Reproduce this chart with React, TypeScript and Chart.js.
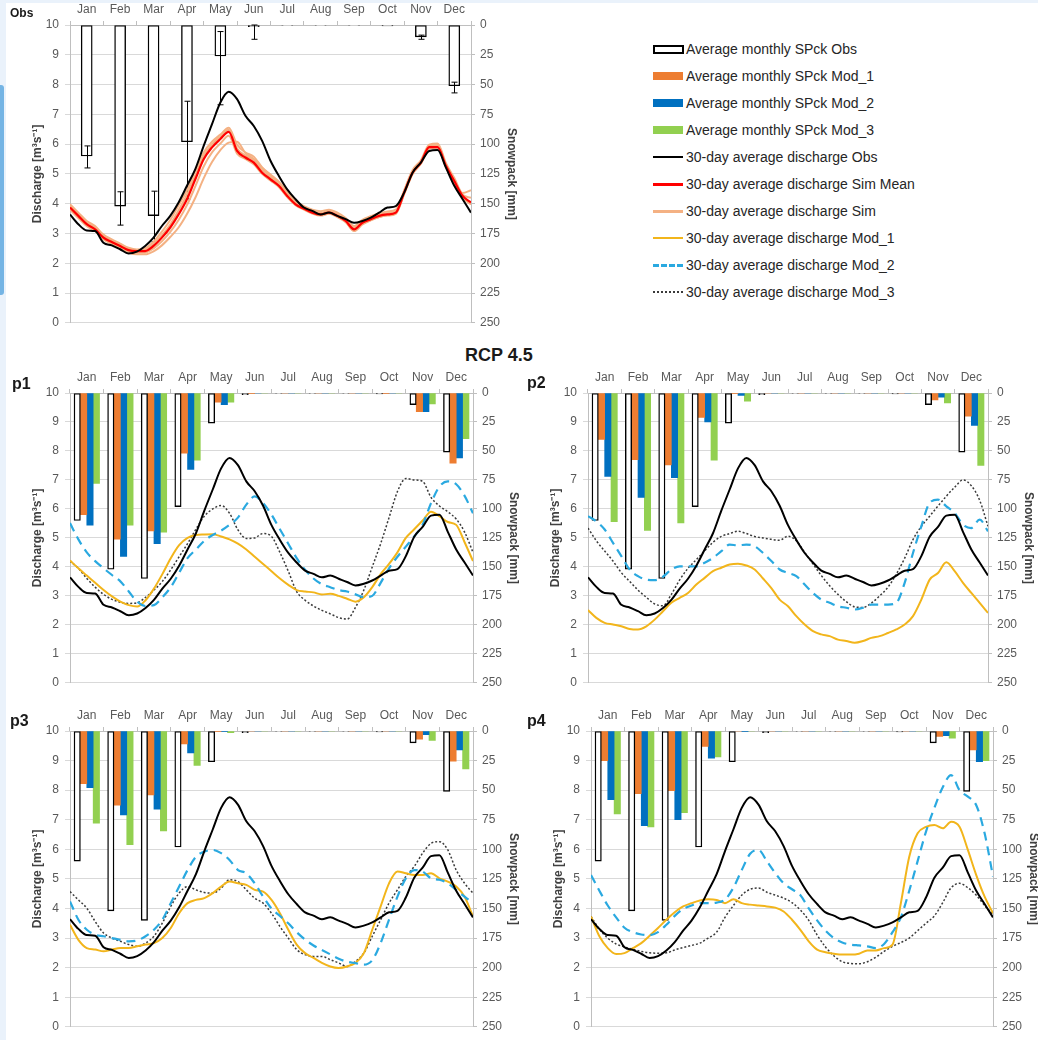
import React, { useEffect, useRef } from 'react';
import { Chart, registerables } from 'chart.js';
Chart.register(...registerables);

const FONT = '"Liberation Sans", Arial, Helvetica, sans-serif';

// ---------- categories / positions ----------
const months = ['Jan', 'Feb', 'Mar', 'Apr', 'May', 'Jun', 'Jul', 'Aug', 'Sep', 'Oct', 'Nov', 'Dec'];
// position of each discharge sample, in months from 1 January (quarter-month steps)
const qPos = [0, 0.25, 0.5, 0.75, 1, 1.25, 1.5, 1.75, 2, 2.25, 2.5, 2.75, 3, 3.25, 3.5, 3.75, 4, 4.25, 4.5, 4.75, 5, 5.25, 5.5, 5.75, 6, 6.25, 6.5, 6.75, 7, 7.25, 7.5, 7.75, 8, 8.25, 8.5, 8.75, 9, 9.25, 9.5, 9.75, 10, 10.25, 10.5, 10.75, 11, 11.25, 11.5, 11.75, 12];

// ---------- snowpack (mm), monthly ----------
const obsSnow = [110, 152, 160, 98, 26, 1.5, 0.4, 0.4, 0.4, 0.8, 10, 51];
const obsSnowErrTop = [101.5, 140, 139.5, 64, 5.5, 0, null, null, null, null, 8.5, 48];
const obsSnowErrBottom = [120, 168, 182, 146, 67, 12, null, null, null, null, 12, 57];

const p1Snow1 = [105, 126, 119, 52, 8, 0.5, 0, 0, 0, 0.5, 16, 60.5];
const p1Snow2 = [114, 141, 130, 66, 10, 0, 0, 0, 0, 0, 16, 56];
const p1Snow3 = [78, 114, 120, 58, 8, 0, 0, 0, 0, 0, 9.5, 39.5];

const p2Snow1 = [40, 57.5, 62, 21, 0.5, 0, 0, 0, 0, 0, 6, 20];
const p2Snow2 = [72, 90, 73, 25, 2, 0, 0, 0, 0, 0, 3.5, 28];
const p2Snow3 = [111, 118.5, 112, 58, 7, 0, 0, 0, 0, 0, 8.5, 62.5];

const p3Snow1 = [44.5, 62.7, 54, 11, 0.5, 0, 0, 0, 0, 0, 7, 25.5];
const p3Snow2 = [48, 71, 66, 18.5, 0.5, 0, 0, 0, 0, 0, 3, 16];
const p3Snow3 = [78, 96, 84.5, 29, 1.5, 0, 0, 0, 0, 0, 8, 32];

const p4Snow1 = [25, 53, 50.5, 13, 0, 0, 0, 0, 0, 0, 4.5, 16];
const p4Snow2 = [58, 80, 75, 23, 0.5, 0, 0, 0, 0, 0, 4, 26];
const p4Snow3 = [70, 81, 69, 22, 0, 0, 0, 0, 0, 0, 6, 25];

// ---------- 30-day average discharge (m3/s) ----------
const obsQ = [3.64, 3.31, 3.1, 3.08, 2.69, 2.6, 2.47, 2.33, 2.39, 2.58, 2.86, 3.25, 3.59, 4.04, 4.6, 5.16, 5.94, 6.67, 7.4, 7.76, 7.51, 6.95, 6.61, 6.11, 5.44, 4.93, 4.48, 4.15, 3.87, 3.76, 3.64, 3.7, 3.59, 3.48, 3.36, 3.42, 3.53, 3.7, 3.87, 3.92, 4.37, 5.04, 5.38, 5.77, 5.8, 5.21, 4.6, 4.15, 3.7];
const simMeanQ = [3.87, 3.59, 3.31, 3.14, 2.86, 2.71, 2.58, 2.44, 2.41, 2.41, 2.58, 2.86, 3.2, 3.64, 4.15, 4.82, 5.49, 5.89, 6.17, 6.41, 5.77, 5.55, 5.38, 5.04, 4.82, 4.6, 4.26, 3.98, 3.83, 3.7, 3.64, 3.7, 3.59, 3.42, 3.14, 3.36, 3.48, 3.59, 3.64, 3.7, 4.37, 5.04, 5.38, 5.9, 5.9, 5.27, 4.76, 4.26, 4.04];
const sim1Q = [3.98, 3.7, 3.42, 3.25, 2.96, 2.8, 2.66, 2.52, 2.46, 2.5, 2.72, 3.06, 3.45, 3.95, 4.45, 5.12, 5.72, 6.08, 6.32, 6.55, 5.98, 5.72, 5.58, 5.22, 4.98, 4.74, 4.4, 4.08, 3.92, 3.8, 3.75, 3.8, 3.7, 3.52, 3.25, 3.46, 3.58, 3.68, 3.74, 3.8, 4.45, 5.12, 5.46, 5.98, 6.02, 5.36, 4.86, 4.36, 4.45];
const sim2Q = [3.92, 3.64, 3.36, 3.2, 2.92, 2.76, 2.62, 2.48, 2.44, 2.45, 2.64, 2.94, 3.3, 3.78, 4.3, 4.95, 5.6, 5.98, 6.25, 6.48, 5.85, 5.62, 5.45, 5.12, 4.88, 4.66, 4.32, 4.03, 3.87, 3.75, 3.69, 3.75, 3.64, 3.46, 3.2, 3.41, 3.53, 3.63, 3.68, 3.74, 4.41, 5.08, 5.42, 5.93, 5.97, 5.31, 4.8, 4.3, 4.2];
const sim3Q = [3.8, 3.52, 3.25, 3.08, 2.8, 2.65, 2.5, 2.36, 2.3, 2.3, 2.4, 2.6, 2.88, 3.2, 3.65, 4.2, 4.85, 5.4, 5.8, 6.05, 6.08, 5.7, 5.5, 5.2, 4.95, 4.7, 4.35, 4.05, 3.88, 3.74, 3.66, 3.7, 3.58, 3.4, 3.08, 3.3, 3.44, 3.55, 3.6, 3.66, 4.32, 5.0, 5.34, 5.85, 5.9, 5.22, 4.7, 4.2, 3.98];
const sim4Q = [3.84, 3.55, 3.28, 3.1, 2.83, 2.68, 2.54, 2.4, 2.36, 2.36, 2.5, 2.74, 3.05, 3.45, 3.95, 4.58, 5.25, 5.72, 6.02, 6.28, 5.68, 5.5, 5.32, 5.0, 4.78, 4.56, 4.22, 3.95, 3.8, 3.67, 3.6, 3.66, 3.55, 3.38, 3.1, 3.32, 3.45, 3.55, 3.62, 3.68, 4.34, 5.0, 5.35, 5.86, 5.88, 5.24, 4.72, 4.22, 3.98];

const p1Q1 = [4.22, 3.95, 3.7, 3.45, 3.2, 2.98, 2.8, 2.68, 2.63, 2.85, 3.25, 3.75, 4.3, 4.75, 5.0, 5.1, 5.12, 5.13, 5.05, 4.95, 4.8, 4.6, 4.35, 4.1, 3.85, 3.6, 3.38, 3.2, 3.15, 3.12, 3.05, 3.07, 3.0, 2.9, 2.8, 2.95, 3.3, 3.75, 4.1, 4.5, 5.0, 5.3, 5.6, 5.9, 5.75, 5.55, 5.45, 4.85, 4.2];
const p1Q2 = [5.51, 4.95, 4.5, 4.2, 3.95, 3.72, 3.5, 3.15, 2.8, 2.65, 2.68, 2.95, 3.3, 3.8, 4.3, 4.6, 4.9, 5.1, 5.25, 5.45, 5.7, 6.15, 6.43, 6.2, 5.8, 5.3, 4.8, 4.3, 3.9, 3.6, 3.4, 3.3, 3.2, 3.15, 3.05, 2.95, 3.0, 3.45, 3.95, 4.35, 4.7, 5.05, 5.45, 6.2, 6.77, 6.95, 6.85, 6.45, 5.85];
const p1Q3 = [4.2, 3.95, 3.6, 3.3, 3.05, 2.88, 2.78, 2.74, 2.76, 2.95, 3.2, 3.5, 3.9, 4.35, 4.8, 5.3, 5.75, 6.0, 6.12, 5.85, 5.28, 4.98, 5.0, 5.15, 5.05, 4.5, 3.85, 3.15, 2.85, 2.65, 2.5, 2.38, 2.25, 2.2, 2.6, 3.2, 4.0, 4.8, 5.7, 6.6, 7.05, 7.0, 6.95, 6.4, 6.1, 5.9, 5.65, 5.2, 4.5];

const p2Q1 = [2.51, 2.24, 2.07, 2.01, 1.95, 1.86, 1.84, 1.95, 2.18, 2.47, 2.76, 2.93, 3.1, 3.39, 3.62, 3.85, 3.97, 4.08, 4.11, 4.05, 3.91, 3.6, 3.27, 2.87, 2.64, 2.3, 2.01, 1.78, 1.67, 1.61, 1.49, 1.44, 1.38, 1.44, 1.55, 1.61, 1.72, 1.84, 2.01, 2.3, 2.87, 3.56, 3.79, 4.16, 3.85, 3.45, 3.1, 2.76, 2.41];
const p2Q2 = [5.75, 5.57, 5.29, 4.83, 4.37, 3.91, 3.68, 3.56, 3.54, 3.66, 3.91, 4.02, 4.02, 4.02, 4.14, 4.31, 4.54, 4.77, 4.74, 4.77, 4.71, 4.48, 4.2, 3.91, 3.79, 3.68, 3.39, 3.1, 2.87, 2.76, 2.64, 2.59, 2.53, 2.59, 2.7, 2.7, 2.7, 2.76, 3.45, 4.48, 5.4, 6.21, 6.32, 6.09, 5.86, 5.46, 5.34, 5.63, 5.23];
const p2Q3 = [5.34, 4.9, 4.55, 4.2, 3.8, 3.5, 3.2, 2.95, 2.72, 2.66, 3.05, 3.55, 3.95, 4.25, 4.55, 4.85, 5.05, 5.15, 5.23, 5.15, 5.05, 5.0, 4.95, 4.92, 5.06, 4.9, 4.5, 4.1, 3.7, 3.35, 3.05, 2.8, 2.62, 2.6, 2.75, 3.0, 3.3, 3.75, 4.3, 4.94, 5.4, 5.75, 6.1, 6.44, 6.75, 7.0, 6.8, 6.3, 5.4];

const p3Q1 = [3.45, 2.94, 2.66, 2.61, 2.55, 2.61, 2.66, 2.66, 2.72, 2.78, 2.83, 3.0, 3.34, 3.84, 4.18, 4.29, 4.35, 4.52, 4.74, 4.91, 4.85, 4.8, 4.63, 4.57, 4.29, 3.84, 3.28, 2.78, 2.49, 2.33, 2.16, 2.04, 1.99, 2.04, 2.16, 2.49, 3.28, 4.07, 4.85, 5.25, 5.19, 5.13, 5.13, 5.19, 5.02, 4.91, 4.74, 4.4, 3.73];
const p3Q2 = [4.24, 3.62, 3.28, 3.11, 3.06, 3.0, 2.94, 2.89, 2.92, 3.06, 3.28, 3.62, 4.18, 4.74, 5.3, 5.75, 5.92, 5.98, 5.87, 5.64, 5.3, 5.19, 4.85, 4.4, 4.0, 3.75, 3.5, 3.2, 2.95, 2.75, 2.6, 2.45, 2.3, 2.2, 2.15, 2.1, 2.25, 2.83, 3.62, 4.4, 5.02, 5.3, 5.25, 5.02, 4.97, 4.85, 4.63, 4.4, 4.18];
const p3Q3 = [4.57, 4.29, 4.01, 3.56, 3.17, 3.0, 2.89, 2.78, 2.72, 2.83, 3.06, 3.51, 4.07, 4.52, 4.74, 4.63, 4.54, 4.52, 4.69, 4.97, 4.91, 4.63, 4.35, 4.18, 3.84, 3.39, 3.0, 2.61, 2.44, 2.38, 2.38, 2.27, 2.16, 2.04, 2.21, 2.49, 3.06, 3.62, 4.18, 4.63, 5.08, 5.42, 5.87, 6.2, 6.26, 5.98, 5.3, 4.85, 4.52];

const p4Q1 = [3.73, 3.06, 2.66, 2.46, 2.49, 2.66, 2.83, 3.08, 3.34, 3.62, 3.87, 4.07, 4.18, 4.27, 4.31, 4.29, 4.18, 4.31, 4.18, 4.13, 4.1, 4.07, 4.03, 3.9, 3.62, 3.28, 2.89, 2.61, 2.52, 2.47, 2.44, 2.44, 2.47, 2.58, 2.58, 2.66, 2.78, 4.18, 5.75, 6.54, 6.76, 6.82, 6.71, 6.93, 6.76, 5.98, 5.13, 4.4, 3.84];
const p4Q2 = [5.13, 4.6, 4.1, 3.7, 3.35, 3.2, 3.12, 3.1, 3.2, 3.45, 3.75, 3.98, 4.1, 4.18, 4.18, 4.2, 4.3, 4.7, 5.3, 5.85, 5.98, 5.6, 5.2, 4.85, 4.65, 4.45, 4.0, 3.6, 3.25, 3.0, 2.85, 2.78, 2.75, 2.72, 2.66, 2.8, 3.2, 3.7, 4.6, 5.6, 6.6, 7.4, 8.1, 8.51, 8.0, 7.78, 7.49, 6.54, 5.08];
const p4Q3 = [3.73, 3.3, 3.0, 2.8, 2.7, 2.62, 2.55, 2.5, 2.49, 2.5, 2.6, 2.68, 2.75, 2.83, 3.0, 3.2, 3.7, 4.1, 4.45, 4.65, 4.69, 4.55, 4.45, 4.35, 4.2, 3.95, 3.6, 3.1, 2.7, 2.4, 2.2, 2.14, 2.13, 2.2, 2.35, 2.55, 2.72, 2.85, 3.0, 3.25, 3.5, 3.75, 4.2, 4.7, 4.85, 4.7, 4.45, 4.1, 3.8];

// ---------- legend / labels ----------
const legendLabels = [
  'Average monthly SPck Obs',
  'Average monthly SPck Mod_1',
  'Average monthly SPck Mod_2',
  'Average monthly SPck Mod_3',
  '30-day average discharge Obs',
  '30-day average discharge Sim Mean',
  '30-day average discharge Sim',
  '30-day average discharge Mod_1',
  '30-day average discharge Mod_2',
  '30-day average discharge Mod_3',
];
const leftTitle = 'Discharge [m³s⁻¹]';
const rightTitle = 'Snowpack [mm]';

// ---------- styles ----------
const C_OBS_BAR = '#ffffff';
const C_MOD1_BAR = '#ED7D31';
const C_MOD2_BAR = '#0070C0';
const C_MOD3_BAR = '#92D050';
const C_OBS_LINE = '#000000';
const C_SIMMEAN = '#FF0000';
const C_SIM = '#F4B183';
const C_MOD1_LINE = '#F2B51B';
const C_MOD2_LINE = '#2AA9E0';
const C_MOD3_LINE = '#3a3a3a';

type BarSpec = { label: string; values: number[]; fill: string; border?: string };
type LineSpec = { label: string; values: number[]; color: string; width: number; dash?: number[]; order: number };

type PanelProps = {
  plotLeft: number; plotTop: number; plotRight: number; plotBottom: number;
  bars: BarSpec[]; lines: LineSpec[]; catPct: number;
  errTop?: (number | null)[]; errBottom?: (number | null)[];
};

const LW = 70, RW = 50, TH = 30, BH = 13;

function Panel(p: PanelProps) {
  const ref = useRef<HTMLCanvasElement>(null);
  const width = p.plotRight - p.plotLeft + LW + RW;
  const height = p.plotBottom - p.plotTop + TH + BH;
  useEffect(() => {
    const n = p.bars.length;
    const slot = p.catPct / n; // fraction of a month taken by one bar
    const barW = ((p.plotRight - p.plotLeft) / months.length) * slot;
    const datasets: any[] = [];
    p.bars.forEach((b, k) => {
      const shift = 0.5 + (k - (n - 1) / 2) * slot;
      datasets.push({
        type: 'bar', label: b.label,
        data: b.values.map((v, i) => ({ x: i + shift, y: v })),
        xAxisID: 'xd', yAxisID: 'y2', grouped: false,
        backgroundColor: b.fill, borderColor: b.border ?? b.fill, borderWidth: b.border ? 1.4 : 0,
        borderSkipped: false, barThickness: barW, order: 20,
      });
    });
    p.lines.forEach((l) => {
      datasets.push({
        type: 'line', label: l.label, data: qPos.map((x, i) => ({ x, y: l.values[i] })),
        xAxisID: 'xd', yAxisID: 'y', borderColor: l.color, borderWidth: l.width,
        borderDash: l.dash ?? [], pointRadius: 0, fill: false, cubicInterpolationMode: 'monotone',
        order: l.order,
      });
    });
    const errPlugin = {
      id: 'errbars',
      afterDatasetDraw(chart: any, args: any) {
        if (args.index !== 0 || !p.errTop || !p.errBottom) return;
        const xs = chart.scales.x; const ys = chart.scales.y2; const ctx = chart.ctx;
        ctx.save(); ctx.strokeStyle = '#000'; ctx.lineWidth = 1;
        for (let i = 0; i < months.length; i++) {
          const t = p.errTop[i]; const b = p.errBottom[i];
          if (t == null || b == null) continue;
          const x = Math.round(xs.getPixelForValue(i)) + 0.5;
          const y1 = ys.getPixelForValue(t); const y2 = ys.getPixelForValue(b);
          ctx.beginPath(); ctx.moveTo(x, y1); ctx.lineTo(x, y2);
          ctx.moveTo(x - 3, y1); ctx.lineTo(x + 3, y1);
          ctx.moveTo(x - 3, y2); ctx.lineTo(x + 3, y2); ctx.stroke();
        }
        ctx.restore();
      },
    };
    const tickFont = { family: FONT, size: 12 };
    const chart = new Chart(ref.current!, {
      type: 'bar',
      data: { labels: months, datasets },
      plugins: [errPlugin],
      options: {
        animation: false, responsive: false, maintainAspectRatio: false,
        layout: { padding: 0 },
        plugins: { legend: { display: false }, tooltip: { enabled: false }, title: { display: false } },
        scales: {
          x: {
            type: 'category', position: 'top', offset: true,
            grid: { display: true, offset: true, drawOnChartArea: false, drawTicks: true, tickLength: 4, color: '#bfbfbf' },
            border: { display: true, color: '#bfbfbf' },
            ticks: { color: '#595959', font: tickFont, padding: 4, maxRotation: 0, autoSkip: false },
            afterFit: (s: any) => { s.height = TH; },
          },
          xd: { type: 'linear', min: 0, max: 12, display: false, offset: false, grid: { offset: false } },
          y: {
            position: 'left', min: 0, max: 10,
            ticks: { stepSize: 1, color: '#595959', font: tickFont, padding: 6 },
            grid: { color: '#d9d9d9', tickLength: 5 },
            border: { display: true, color: '#bfbfbf' },
            title: { display: true, text: leftTitle, color: '#404040', font: { family: FONT, size: 12, weight: 'bold' }, padding: { top: 30, bottom: 0 } },
            afterFit: (s: any) => { s.width = LW; },
          },
          y2: {
            position: 'right', min: 0, max: 250, reverse: true,
            ticks: { stepSize: 25, color: '#595959', font: tickFont, padding: 5 },
            grid: { drawOnChartArea: false, tickLength: 4, color: '#bfbfbf' },
            border: { display: true, color: '#bfbfbf' },
            title: { display: true, text: rightTitle, color: '#404040', font: { family: FONT, size: 12, weight: 'bold' }, padding: { top: 2, bottom: 0 } },
            afterFit: (s: any) => { s.width = RW; },
          },
        },
      } as any,
    });
    return () => chart.destroy();
  }, []);
  return (
    <canvas ref={ref} width={width} height={height}
      style={{ position: 'absolute', left: p.plotLeft - LW, top: p.plotTop - TH, width, height }} />
  );
}

const obsBar: BarSpec = { label: legendLabels[0], values: obsSnow, fill: C_OBS_BAR, border: '#000' };
const obsLine: LineSpec = { label: legendLabels[4], values: obsQ, color: C_OBS_LINE, width: 2, order: 0 };

function modBars(a: number[], b: number[], c: number[]): BarSpec[] {
  return [
    obsBar,
    { label: legendLabels[1], values: a, fill: C_MOD1_BAR },
    { label: legendLabels[2], values: b, fill: C_MOD2_BAR },
    { label: legendLabels[3], values: c, fill: C_MOD3_BAR },
  ];
}
function modLines(a: number[], b: number[], c: number[]): LineSpec[] {
  return [
    obsLine,
    { label: legendLabels[7], values: a, color: C_MOD1_LINE, width: 2, order: 2 },
    { label: legendLabels[8], values: b, color: C_MOD2_LINE, width: 2.2, dash: [9, 6], order: 1 },
    { label: legendLabels[9], values: c, color: C_MOD3_LINE, width: 1.5, dash: [2, 2], order: 3 },
  ];
}

function Legend() {
  const sym = (i: number) => {
    const base: React.CSSProperties = { position: 'absolute', left: 0, width: 30 };
    switch (i) {
      case 0: return <div style={{ ...base, top: -4, height: 5, border: '2px solid #000', width: 27, background: '#fff' }} />;
      case 1: return <div style={{ ...base, top: -4, height: 8, background: C_MOD1_BAR }} />;
      case 2: return <div style={{ ...base, top: -4, height: 8, background: C_MOD2_BAR }} />;
      case 3: return <div style={{ ...base, top: -4, height: 8, background: C_MOD3_BAR }} />;
      case 4: return <div style={{ ...base, top: -1, height: 2, background: C_OBS_LINE }} />;
      case 5: return <div style={{ ...base, top: -1, height: 3, background: C_SIMMEAN }} />;
      case 6: return <div style={{ ...base, top: -1, height: 3, background: C_SIM }} />;
      case 7: return <div style={{ ...base, top: -1, height: 2, background: C_MOD1_LINE }} />;
      case 8: return <div style={{ ...base, top: -1, height: 0, borderTop: `3px dashed ${C_MOD2_LINE}` }} />;
      default: return <div style={{ ...base, top: -1, height: 0, borderTop: `2px dotted ${C_MOD3_LINE}` }} />;
    }
  };
  return (
    <>
      {legendLabels.map((t, i) => (
        <div key={t} style={{ position: 'absolute', left: 653, top: 49 + 27 * i, height: 0 }}>
          {sym(i)}
          <div style={{ position: 'absolute', left: 33, top: -9, whiteSpace: 'nowrap', fontFamily: FONT, fontSize: 14, color: '#262626', lineHeight: '18px' }}>{t}</div>
        </div>
      ))}
    </>
  );
}

const labelStyle: React.CSSProperties = { position: 'absolute', fontFamily: FONT, fontWeight: 'bold', color: '#1a1a1a', whiteSpace: 'nowrap' };

export default function App() {
  return (
    <div style={{ position: 'absolute', left: 0, top: 0, width: 1038, height: 1040, overflow: 'hidden', background: '#ffffff' }}>
      <div style={{ position: 'absolute', left: 0, top: 0, width: 1038, height: 3, background: '#eaf2fb' }} />
      <div style={{ position: 'absolute', left: 0, top: 0, width: 6, height: 1040, background: '#eaf2fb' }} />
      <div style={{ position: 'absolute', left: 0, top: 85, width: 4, height: 210, background: '#74b4e4', borderRadius: '0 3px 3px 0' }} />

      <Panel plotLeft={70} plotTop={25} plotRight={471} plotBottom={323} catPct={0.33}
        bars={[obsBar]} errTop={obsSnowErrTop} errBottom={obsSnowErrBottom}
        lines={[
          obsLine,
          { label: legendLabels[5], values: simMeanQ, color: C_SIMMEAN, width: 2.2, order: 1 },
          { label: legendLabels[6], values: sim1Q, color: C_SIM, width: 2, order: 5 },
          { label: legendLabels[6], values: sim2Q, color: C_SIM, width: 2, order: 5 },
          { label: legendLabels[6], values: sim3Q, color: C_SIM, width: 2, order: 5 },
          { label: legendLabels[6], values: sim4Q, color: C_SIM, width: 2, order: 5 },
        ]} />
      <Legend />
      <div style={{ ...labelStyle, left: 10, top: 6, fontSize: 12 }}>Obs</div>
      <div style={{ ...labelStyle, left: 465, top: 345, fontSize: 18 }}>RCP 4.5</div>

      <Panel plotLeft={70} plotTop={393} plotRight={473} plotBottom={683} catPct={0.76}
        bars={modBars(p1Snow1, p1Snow2, p1Snow3)} lines={modLines(p1Q1, p1Q2, p1Q3)} />
      <div style={{ ...labelStyle, left: 12, top: 375, fontSize: 16 }}>p1</div>

      <Panel plotLeft={588} plotTop={393} plotRight={988} plotBottom={683} catPct={0.76}
        bars={modBars(p2Snow1, p2Snow2, p2Snow3)} lines={modLines(p2Q1, p2Q2, p2Q3)} />
      <div style={{ ...labelStyle, left: 527, top: 374, fontSize: 16 }}>p2</div>

      <Panel plotLeft={70} plotTop={731} plotRight={473} plotBottom={1027} catPct={0.76}
        bars={modBars(p3Snow1, p3Snow2, p3Snow3)} lines={modLines(p3Q1, p3Q2, p3Q3)} />
      <div style={{ ...labelStyle, left: 10, top: 712, fontSize: 16 }}>p3</div>

      <Panel plotLeft={591} plotTop={731} plotRight={993} plotBottom={1027} catPct={0.76}
        bars={modBars(p4Snow1, p4Snow2, p4Snow3)} lines={modLines(p4Q1, p4Q2, p4Q3)} />
      <div style={{ ...labelStyle, left: 527, top: 712, fontSize: 16 }}>p4</div>
    </div>
  );
}
